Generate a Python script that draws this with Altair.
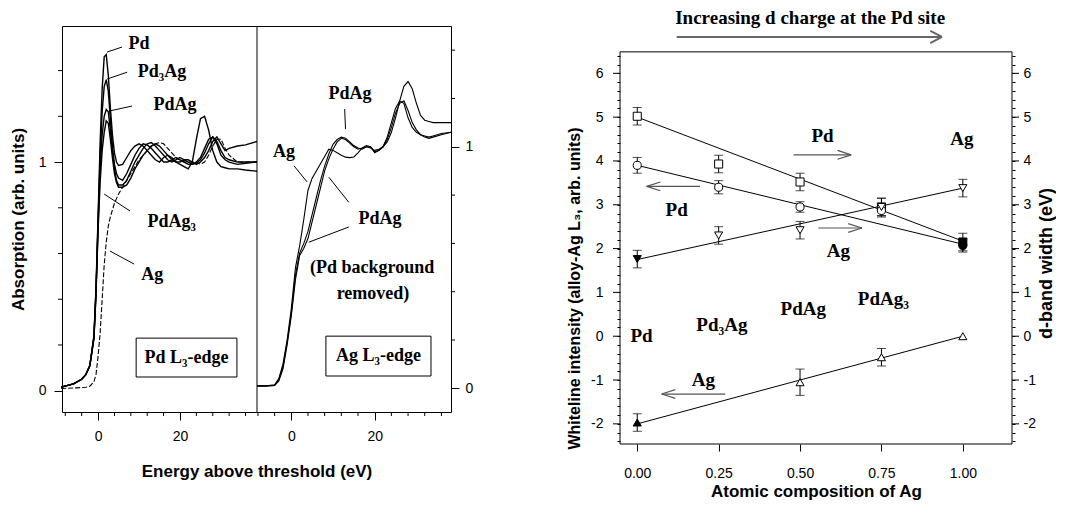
import altair as alt
import pandas as pd

SERIF = "Liberation Serif"
SANS = "Liberation Sans"

# ---------------- Pd L3-edge spectra (left panel) ----------------
pd_energy = [-9, -6, -4, -3, -2, -1, -0.5, 0, 0.5, 1, 1.5, 2, 2.5, 3, 3.5, 4, 4.5, 5,
             6, 7, 8, 9, 10, 11, 12, 13, 14, 15, 16, 17, 18, 19, 20, 21, 22, 23, 24, 25,
             26, 27, 28, 29, 30, 31, 32, 34, 36, 38.8]
pd_Pd = [0.016, 0.03, 0.05, 0.07, 0.11, 0.24, 0.45, 0.76, 1.08, 1.32, 1.46, 1.47, 1.38, 1.24, 1.12, 1.04, 1.0, 0.985,
         0.99, 1.02, 1.05, 1.07, 1.08, 1.07, 1.05, 1.03, 1.01, 1.0, 1.02, 1.03, 1.02, 1.0, 0.99, 0.98, 0.97, 1.0, 1.10, 1.19,
         1.20, 1.14, 1.05, 1.0, 0.98, 0.975, 0.97, 0.97, 0.965, 0.96]
pd_Pd3Ag = [0.016, 0.03, 0.05, 0.07, 0.11, 0.24, 0.44, 0.74, 1.02, 1.22, 1.33, 1.36, 1.31, 1.19, 1.07, 0.99, 0.95, 0.93,
            0.92, 0.95, 0.99, 1.03, 1.06, 1.08, 1.075, 1.06, 1.04, 1.02, 1.0, 1.0, 1.01, 1.02, 1.01, 1.0, 0.99, 0.99, 1.0, 1.02,
            1.06, 1.10, 1.11, 1.08, 1.03, 1.01, 1.0, 0.99, 0.995, 1.0]
pd_PdAg = [0.016, 0.03, 0.05, 0.07, 0.11, 0.23, 0.43, 0.72, 0.96, 1.12, 1.20, 1.23, 1.22, 1.14, 1.05, 0.97, 0.92, 0.90,
           0.90, 0.92, 0.96, 1.0, 1.03, 1.06, 1.08, 1.085, 1.07, 1.05, 1.03, 1.01, 1.0, 1.01, 1.02, 1.01, 1.0, 0.99, 0.995, 1.01,
           1.04, 1.08, 1.11, 1.09, 1.05, 1.02, 1.01, 1.0, 1.0, 1.0]
pd_PdAg3 = [0.016, 0.03, 0.05, 0.07, 0.11, 0.23, 0.42, 0.70, 0.91, 1.05, 1.13, 1.18, 1.17, 1.10, 1.02, 0.95, 0.91, 0.89,
            0.89, 0.90, 0.93, 0.97, 1.0, 1.03, 1.05, 1.07, 1.08, 1.07, 1.05, 1.03, 1.01, 1.0, 1.0, 1.01, 1.01, 1.0, 0.99, 1.0,
            1.02, 1.05, 1.09, 1.11, 1.08, 1.05, 1.06, 1.07, 1.075, 1.09]
pd_Ag = [0.01, 0.012, 0.014, 0.015, 0.02, 0.04, 0.07, 0.15, 0.25, 0.40, 0.55, 0.65, 0.72, 0.76, 0.79, 0.82, 0.84, 0.86,
         0.89, 0.92, 0.95, 0.98, 1.01, 1.03, 1.05, 1.07, 1.08, 1.085, 1.08, 1.06, 1.04, 1.02, 1.01, 1.0, 1.0, 1.0, 1.0, 0.99,
         1.0, 1.03, 1.07, 1.10, 1.10, 1.06, 1.03, 1.0, 1.0, 1.0]
pd_panel_end = 38.8   # energy at which the Pd panel ends and the Ag panel begins

pd_label_text = ["Pd", "Pd\u2083Ag", "PdAg", "PdAg\u2083", "Ag"]
pd_label_x = [10.0, 15.6, 18.8, 18.0, 13.2]
pd_label_y = [1.516, 1.393, 1.249, 0.738, 0.506]
pd_leader_x0 = [2.2, 2.2, 2.7, 1.5, 2.9]
pd_leader_y0 = [1.481, 1.363, 1.223, 0.86, 0.611]
pd_leader_x1 = [5.85, 7.1, 8.3, 7.8, 8.8]
pd_leader_y1 = [1.503, 1.393, 1.245, 0.786, 0.554]
pd_box = [9.3, 33.9, 0.06, 0.23]
pd_box_text = "Pd L\u2083-edge"

# ---------------- Ag L3-edge spectra (middle panel) ----------------
ag_energy = [-8.2, -6, -4, -3, -2, -1, 0, 1, 2, 3, 4, 5, 6, 7, 8, 9,
             10, 11, 12, 13, 14, 15, 16, 17, 18, 19, 20, 21, 22, 23, 24, 25, 26, 27, 28, 29, 30, 31, 32, 33, 34, 36, 38.3]
ag_Ag = [0.01, 0.01, 0.015, 0.04, 0.10, 0.20, 0.33, 0.50, 0.59, 0.70, 0.82, 0.87, 0.90, 0.93, 0.96, 0.99,
         0.985, 0.975, 0.965, 0.957, 0.955, 0.958, 0.975, 0.995, 1.0, 0.995, 0.985, 0.99, 1.0, 1.04, 1.10, 1.16, 1.19,
         1.18, 1.12, 1.08, 1.06, 1.05, 1.045, 1.04, 1.045, 1.055, 1.06]
ag_PdAg_a = [0.01, 0.01, 0.012, 0.035, 0.09, 0.19, 0.31, 0.47, 0.56, 0.60, 0.65, 0.72, 0.79, 0.86, 0.92, 0.97,
             1.01, 1.03, 1.04, 1.035, 1.02, 1.005, 0.995, 0.99, 1.0, 1.0, 0.975, 0.985, 1.0, 1.03, 1.08, 1.14, 1.18,
             1.19, 1.15, 1.10, 1.07, 1.05, 1.04, 1.035, 1.04, 1.05, 1.06]
ag_PdAg_b = [0.01, 0.01, 0.012, 0.03, 0.08, 0.18, 0.30, 0.45, 0.55, 0.58, 0.62, 0.69, 0.76, 0.83, 0.90, 0.95,
             0.99, 1.02, 1.035, 1.03, 1.015, 1.0, 0.99, 0.995, 1.005, 1.0, 0.98, 0.985, 1.0, 1.02, 1.06, 1.12, 1.19,
             1.25, 1.27, 1.24, 1.18, 1.13, 1.11, 1.105, 1.10, 1.10, 1.10]

ag_label_text = ["PdAg", "Ag", "PdAg", "(Pd background", "removed)"]
ag_label_x = [14.1, -1.75, 21.3, 19.4, 19.6]
ag_label_y = [1.218, 0.978, 0.70, 0.50, 0.39]
ag_leader_x0 = [12.8, 0.65, 9.0, 4.2]
ag_leader_y0 = [1.156, 0.921, 0.874, 0.605]
ag_leader_x1 = [13.0, 3.76, 13.8, 13.8]
ag_leader_y1 = [1.073, 0.855, 0.77, 0.668]
ag_box = [8.3, 33.5, 0.051, 0.216]
ag_box_text = "Ag L\u2083-edge"

energy_major = [0, 20]
energy_minor = [-8, -4, 4, 8, 12, 16, 24, 28, 32, 36]
abs_major = [0, 1]
abs_minor = [0.2, 0.4, 0.6, 0.8, 1.2, 1.4]

# ---------------- Right figure ----------------
composition = [0.0, 0.25, 0.5, 0.75, 1.0]
sq_y = [5.02, 3.93, 3.52, 2.95, 2.15]
sq_err = [0.2, 0.2, 0.2, 0.2, 0.2]
circ_y = [3.9, 3.40, 2.95, 2.87, 2.07]
circ_err = [0.18, 0.15, 0.12, 0.15, 0.15]
dtri_y = [1.76, 2.30, 2.42, 2.95, 3.38]
dtri_err = [0.2, 0.2, 0.2, 0.2, 0.2]
ag_comp = [0.0, 0.5, 0.75, 1.0]
utri_y = [-1.97, -1.05, -0.48, 0.0]
utri_err = [0.2, 0.3, 0.2, 0.0]

fit_names = ["sq", "circ", "dtri", "utri"]
fit_y0 = [5.0, 3.9, 1.75, -2.0]
fit_y1 = [2.17, 2.1, 3.38, 0.0]

r_label_text = ["Pd", "Ag", "Pd", "Ag", "Ag", "Pd", "Pd\u2083Ag", "PdAg", "PdAg\u2083"]
r_label_x = [0.569, 0.997, 0.121, 0.618, 0.203, 0.013, 0.26, 0.51, 0.756]
r_label_y = [4.58, 4.51, 2.87, 1.95, -1.01, 0.0, 0.26, 0.62, 0.85]

arrow_x0 = [0.48, 0.193, 0.556, 0.27]
arrow_x1 = [0.657, 0.029, 0.69, 0.075]
arrow_y = [4.14, 3.42, 2.47, -1.32]

top_text = "Increasing d charge at the Pd site"
top_arrow_x0, top_arrow_x1, top_arrow_y = 0.121, 0.936, 6.83

# ---------------- geometry ----------------
L_W, L_H = 389, 386
L1_XDOM = [-8.8, 86.15]     # Pd panel occupies the left 195 px
L1_YDOM = [-0.093, 1.595]
L2_XDOM = [-54.99, 38.3]    # Ag panel occupies the right 194 px
L2_YDOM = [-0.098, 1.5]
R_W, R_H = 392, 418
R_XDOM = [-0.053, 1.151]
R_FRAME_Y = [-2.46, 6.49]
R_YDOM = [-2.46, 7.08]

OMIT = "omit"


def qx(field, dom, axis=None):
    kw = {} if axis is OMIT else {"axis": axis}
    return alt.X(field, type="quantitative", scale=alt.Scale(domain=dom, nice=False, zero=False), **kw)


def qy(field, dom, axis=None):
    kw = {} if axis is OMIT else {"axis": axis}
    return alt.Y(field, type="quantitative", scale=alt.Scale(domain=dom, nice=False, zero=False), **kw)


def long_df(energy, series):
    rows = []
    for name, ys in series.items():
        for e, v in zip(energy, ys):
            rows.append({"sample": name, "E": e, "A": v})
    return pd.DataFrame(rows)


def text_layer(df, xdom, ydom, size, xaxis=None):
    return alt.Chart(df).mark_text(font=SERIF, fontWeight="bold", fontSize=size, color="black",
                                   align="center", baseline="middle").encode(
        x=qx("x", xdom, xaxis), y=qy("y", ydom), text="t:N")


def seg_layer(df, xdom, ydom, color="black", width=1.0, xaxis=None):
    return alt.Chart(df).mark_rule(color=color, strokeWidth=width).encode(
        x=qx("x0", xdom, xaxis), x2="x1", y=qy("y0", ydom), y2="y1")


def box_layer(box, xdom, ydom):
    return alt.Chart(pd.DataFrame({"x0": [box[0]], "x1": [box[1]], "y0": [box[2]], "y1": [box[3]]})).mark_rect(
        fill="white", stroke="black", strokeWidth=1).encode(
        x=qx("x0", xdom), x2="x1", y=qy("y0", ydom), y2="y1")


def xticks(vals, xdom, length):
    return alt.Chart(pd.DataFrame({"v": vals})).mark_rule(color="black").encode(
        x=qx("v", xdom), y=alt.value(L_H), y2=alt.value(L_H + length))


def yticks(vals, ydom, x0, x1, yaxis=None):
    return alt.Chart(pd.DataFrame({"v": vals})).mark_rule(color="black").encode(
        y=qy("v", ydom, yaxis), x=alt.value(x0), x2=alt.value(x1))


# ---------------- left figure: two spectra panels sharing one frame ----------------
thick = long_df(pd_energy, {"Pd": pd_Pd, "Pd3Ag": pd_Pd3Ag, "PdAg": pd_PdAg, "PdAg3": pd_PdAg3})
thin = long_df(pd_energy, {"Ag": pd_Ag})
agdf = long_df(ag_energy, {"Ag": ag_Ag, "PdAg_a": ag_PdAg_a, "PdAg_b": ag_PdAg_b})

l1_xaxis = alt.Axis(orient="bottom", values=energy_major, tickSize=8, labelPadding=9, labelFontSize=14,
                    title="Energy above threshold (eV)", titleFontSize=17, titleFontWeight="bold",
                    titleY=59, titleBaseline="middle", domain=False)
l1_yaxis = alt.Axis(orient="left", values=abs_major, format="d", tickSize=8, labelPadding=8, labelFontSize=14,
                    title="Absorption (arb. units)", titleFontSize=17, titleFontWeight="bold", titlePadding=11,
                    domain=False)
l2_xaxis = alt.Axis(orient="bottom", values=energy_major, tickSize=8, labelPadding=9, labelFontSize=14,
                    title=None, domain=False)
l2_yaxis = alt.Axis(orient="right", values=abs_major, format="d", tickSize=8, labelPadding=6, labelFontSize=14,
                    title=None, domain=False)

p1_lines = alt.Chart(thick).mark_line(color="black", strokeWidth=1.4).encode(
    x=qx("E", L1_XDOM, l1_xaxis), y=qy("A", L1_YDOM, l1_yaxis), detail="sample:N")
p1_ag = alt.Chart(thin).mark_line(color="black", strokeWidth=1.1, strokeDash=[5, 2]).encode(
    x=qx("E", L1_XDOM), y=qy("A", L1_YDOM))
p1_labels = text_layer(pd.DataFrame({"t": pd_label_text, "x": pd_label_x, "y": pd_label_y}), L1_XDOM, L1_YDOM, 18)
p1_leaders = seg_layer(pd.DataFrame({"x0": pd_leader_x0, "y0": pd_leader_y0, "x1": pd_leader_x1,
                                     "y1": pd_leader_y1}), L1_XDOM, L1_YDOM)
p1_box = box_layer(pd_box, L1_XDOM, L1_YDOM)
p1_boxtext = text_layer(pd.DataFrame({"t": [pd_box_text], "x": [(pd_box[0] + pd_box[1]) / 2],
                                      "y": [(pd_box[2] + pd_box[3]) / 2]}), L1_XDOM, L1_YDOM, 18)
divider = alt.Chart(pd.DataFrame({"v": [pd_panel_end]})).mark_rule(color="black", strokeWidth=1).encode(
    x=qx("v", L1_XDOM))

p2_lines = alt.Chart(agdf).mark_line(color="black", strokeWidth=1.1).encode(
    x=qx("E", L2_XDOM, l2_xaxis), y=qy("A", L2_YDOM, l2_yaxis), detail="sample:N")
p2_labels = text_layer(pd.DataFrame({"t": ag_label_text, "x": ag_label_x, "y": ag_label_y}), L2_XDOM, L2_YDOM, 18)
p2_leaders = seg_layer(pd.DataFrame({"x0": ag_leader_x0, "y0": ag_leader_y0, "x1": ag_leader_x1,
                                     "y1": ag_leader_y1}), L2_XDOM, L2_YDOM)
p2_box = box_layer(ag_box, L2_XDOM, L2_YDOM)
p2_boxtext = text_layer(pd.DataFrame({"t": [ag_box_text], "x": [(ag_box[0] + ag_box[1]) / 2],
                                      "y": [(ag_box[2] + ag_box[3]) / 2]}), L2_XDOM, L2_YDOM, 18)

left_fig = alt.layer(
    p1_lines, p1_ag, p1_leaders, p1_labels, p1_box, p1_boxtext,
    xticks(energy_minor, L1_XDOM, 4), yticks(abs_minor, L1_YDOM, -4, 0),
    p2_lines, p2_leaders, p2_labels, p2_box, p2_boxtext,
    xticks(energy_minor, L2_XDOM, 4), yticks(abs_minor, L2_YDOM, L_W, L_W + 4),
    divider,
).resolve_scale(x="independent", y="independent").properties(width=L_W, height=L_H)

# ---------------- right figure ----------------
pts = []
for name, xs, ys, es, filled_at in [("sq", composition, sq_y, sq_err, 1.0),
                                    ("circ", composition, circ_y, circ_err, 1.0),
                                    ("dtri", composition, dtri_y, dtri_err, 0.0),
                                    ("utri", ag_comp, utri_y, utri_err, 0.0)]:
    for x, y, e in zip(xs, ys, es):
        pts.append({"series": name, "x": x, "y": y, "lo": y - e, "hi": y + e, "filled": x == filled_at, "err": e > 0})
ptdf = pd.DataFrame(pts)
errdf = ptdf[ptdf["err"]]
capdf = pd.concat([errdf.assign(c=errdf["lo"]), errdf.assign(c=errdf["hi"])])

fitdf = pd.DataFrame({"series": fit_names * 2, "x": [0.0] * 4 + [1.0] * 4, "y": fit_y0 + fit_y1})

minor_vals = [round(-2.4 + 0.2 * i, 1) for i in range(45)]
int_expr = "abs(datum.value - round(datum.value)) < 0.01 ? toString(round(datum.value)) : ''"

r_xaxis = alt.Axis(values=composition, format=".2f", tickSize=7, labelPadding=15, labelFontSize=14, domain=False,
                   title="Atomic composition of Ag", titleFontSize=17, titleFontWeight="bold", titlePadding=3)
r_yaxis_left = alt.Axis(values=minor_vals, labelExpr=int_expr, tickSize=3, labelPadding=14, labelFontSize=14,
                        domain=False, title="Whiteline intensity (alloy-Ag L\u2083, arb. units)", titleFontSize=16,
                        titleFontWeight="bold", titlePadding=8, titleY=262)
r_yaxis_right = alt.Axis(orient="right", values=minor_vals, labelExpr=int_expr, tickSize=3, labelPadding=8,
                         labelFontSize=14, domain=False, title="d-band width (eV)", titleFontSize=18,
                         titleFontWeight="bold", titleAngle=270, titleBaseline="top", titlePadding=2,
                         titleY=237)

r_frame = alt.Chart(pd.DataFrame({"x0": [R_XDOM[0]], "x1": [R_XDOM[1]], "y0": [R_FRAME_Y[0]],
                                  "y1": [R_FRAME_Y[1]]})).mark_rect(
    fill="white", fillOpacity=0, stroke="black", strokeWidth=1).encode(
    x=qx("x0", R_XDOM, r_xaxis), x2="x1", y=qy("y0", R_YDOM, r_yaxis_left), y2="y1")
r_fit = alt.Chart(fitdf).mark_line(color="black", strokeWidth=1).encode(
    x=qx("x", R_XDOM, OMIT), y=qy("y", R_YDOM), detail="series:N")
r_err = alt.Chart(errdf).mark_rule(color="black", strokeWidth=1).encode(
    x=qx("x", R_XDOM, OMIT), y=qy("lo", R_YDOM), y2="hi")
r_caps = alt.Chart(capdf).mark_tick(orient="horizontal", color="black", size=9, thickness=1).encode(
    x=qx("x", R_XDOM, OMIT), y=qy("c", R_YDOM))
r_pts = alt.Chart(ptdf).mark_point(filled=True, stroke="black", strokeWidth=1, size=65, opacity=1).encode(
    x=qx("x", R_XDOM, OMIT), y=qy("y", R_YDOM),
    shape=alt.Shape("series:N", scale=alt.Scale(domain=["sq", "circ", "dtri", "utri"],
                                                range=["square", "circle", "triangle-down", "triangle-up"]),
                    legend=None),
    fill=alt.condition("datum.filled", alt.value("black"), alt.value("white")))
r_labels = text_layer(pd.DataFrame({"t": r_label_text, "x": r_label_x, "y": r_label_y}), R_XDOM, R_YDOM, 19,
                      xaxis=OMIT)

# arrows: shaft plus two head strokes
HEAD_DX, HEAD_DY = 0.042, 0.1
segs = []
for x0, x1, y in zip(arrow_x0, arrow_x1, arrow_y):
    s = 1 if x1 > x0 else -1
    segs.append({"x0": x0, "x1": x1, "y0": y, "y1": y})
    segs.append({"x0": x1, "x1": x1 - s * HEAD_DX, "y0": y, "y1": y + HEAD_DY})
    segs.append({"x0": x1, "x1": x1 - s * HEAD_DX, "y0": y, "y1": y - HEAD_DY})
r_arrows = seg_layer(pd.DataFrame(segs), R_XDOM, R_YDOM, color="#555555", width=1.2, xaxis=OMIT)
tsegs = [{"x0": top_arrow_x0, "x1": top_arrow_x1, "y0": top_arrow_y, "y1": top_arrow_y},
         {"x0": top_arrow_x1, "x1": top_arrow_x1 - 0.036, "y0": top_arrow_y, "y1": top_arrow_y + 0.14},
         {"x0": top_arrow_x1, "x1": top_arrow_x1 - 0.036, "y0": top_arrow_y, "y1": top_arrow_y - 0.14}]
r_toparrow = seg_layer(pd.DataFrame(tsegs), R_XDOM, R_YDOM, color="#666666", width=2, xaxis=OMIT)
r_toptext = text_layer(pd.DataFrame({"t": [top_text], "x": [0.531], "y": [7.26]}), R_XDOM, R_YDOM, 19, xaxis=OMIT)

r_ymajor_l = yticks(list(range(-2, 7)), R_YDOM, -7, 0)
r_ymajor_r = yticks(list(range(-2, 7)), R_YDOM, R_W, R_W + 7, yaxis=r_yaxis_right)

right_fig = alt.layer(r_frame, r_fit, r_err, r_caps, r_pts, r_labels, r_arrows, r_toparrow, r_toptext,
                      r_ymajor_l, r_ymajor_r).resolve_scale(y="independent").properties(
    width=R_W, height=R_H, view=alt.ViewBackground(stroke="transparent"))

chart = alt.hconcat(left_fig, right_fig, spacing=92).properties(
    padding={"left": 0, "top": 0, "right": 0, "bottom": 0}, background="white"
).configure_view(stroke="black", strokeWidth=1).configure_axis(
    grid=False, domainColor="black", tickColor="black", labelColor="black", titleColor="black",
    labelFont=SANS, titleFont=SANS, domainWidth=1, tickWidth=1
)

chart.save("out.html", embed_options={"renderer": "svg", "actions": False})
